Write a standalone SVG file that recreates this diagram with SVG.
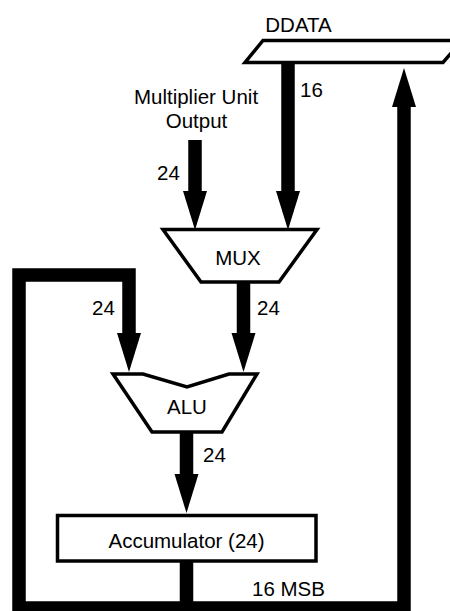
<svg xmlns="http://www.w3.org/2000/svg" width="450" height="611" viewBox="0 0 450 611">
<style>
text{font-family:"Liberation Sans",Arial,Helvetica,sans-serif;font-size:20.5px;fill:#000}
.m{text-anchor:middle}
.shape{fill:#fff;stroke:#000;stroke-width:3.5;stroke-linejoin:miter}
.bus{fill:none;stroke:#000;stroke-width:13.5;stroke-linecap:butt;stroke-linejoin:miter;marker-end:url(#ah)}
.plain{fill:none;stroke:#000;stroke-width:13.5;stroke-linecap:butt;stroke-linejoin:miter}
</style>
<defs>
<marker id="ah" markerUnits="userSpaceOnUse" markerWidth="40" markerHeight="25" refX="0" refY="12" orient="auto" overflow="visible">
<path d="M0,0 L39,12 L0,24 Z" fill="#000"/>
</marker>
</defs>
<rect width="450" height="611" fill="#fff"/>
<g id="connectors">
<path class="bus" d="M288,63 V191"/>
<path class="bus" d="M195,140 V191"/>
<path class="bus" d="M243.5,282 V333"/>
<path class="bus" d="M186.5,608 H19 V275 H129 V333"/>
<path class="bus" d="M186.5,432 V474"/>
<path class="bus" d="M186.5,562 V608 H404 V107"/>
</g>
<g id="ddata">
<polygon class="shape" points="263,40.5 462,40.5 443,62.5 245,62.5"/>
<text class="m" x="298.5" y="32">DDATA</text>
</g>
<g id="multiplier">
<text class="m" x="196" y="104">Multiplier Unit</text>
<text class="m" x="196.5" y="128">Output</text>
</g>
<g id="mux">
<polygon class="shape" points="163,229.5 317,229.5 279,282 201,282"/>
<text class="m" x="238" y="265">MUX</text>
</g>
<g id="alu">
<polygon class="shape" points="113,374 143,374 187,387 229,374 257,374 222,432 152,432"/>
<text class="m" x="187" y="414">ALU</text>
</g>
<g id="accumulator">
<rect class="shape" x="57.5" y="515.5" width="258.5" height="45.5"/>
<text class="m" x="186.5" y="548">Accumulator (24)</text>
</g>
<g id="labels">
<text x="300" y="97">16</text>
<text x="157" y="180">24</text>
<text x="92" y="315">24</text>
<text x="257" y="315">24</text>
<text x="203" y="462">24</text>
<text x="252" y="596">16 MSB</text>
</g>
</svg>
